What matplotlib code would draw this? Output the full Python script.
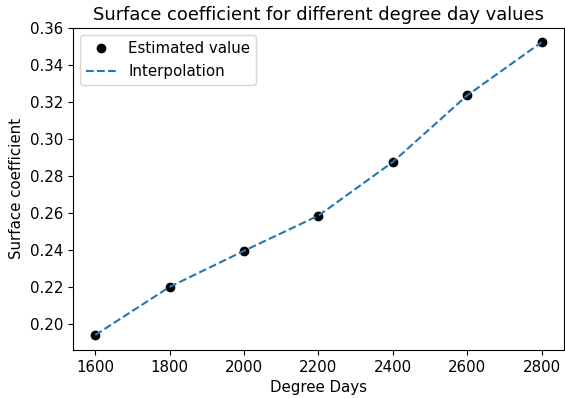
import numpy as np
import matplotlib
matplotlib.use('Agg')
import matplotlib.pyplot as plt

degree_days = [1600, 1800, 2000, 2200, 2400, 2600, 2800]
surface_coef = [0.194, 0.220, 0.2395, 0.2585, 0.2875, 0.3235, 0.3522]

plt.rcParams['font.size'] = 10.8
fig = plt.figure(figsize=(5.65, 3.98), dpi=100)
ax = fig.add_axes([0.129, 0.121, 0.869, 0.809])
ax.plot(degree_days, surface_coef, 'o', color='black', label='Estimated value')
ax.plot(degree_days, surface_coef, '--', color='#1f77b4', label='Interpolation')
ax.set_xticks([1600, 1800, 2000, 2200, 2400, 2600, 2800])
ax.set_yticks(np.arange(0.20, 0.361, 0.02))
ax.set_ylim(0.186, 0.36)
ax.set_xlim(1540, 2860)
ax.set_xlabel('Degree Days')
ax.set_ylabel('Surface coefficient')
ax.set_title('Surface coefficient for different degree day values', fontsize=12.9)
ax.legend(loc='upper left')
fig.savefig('out.png', dpi=100)
